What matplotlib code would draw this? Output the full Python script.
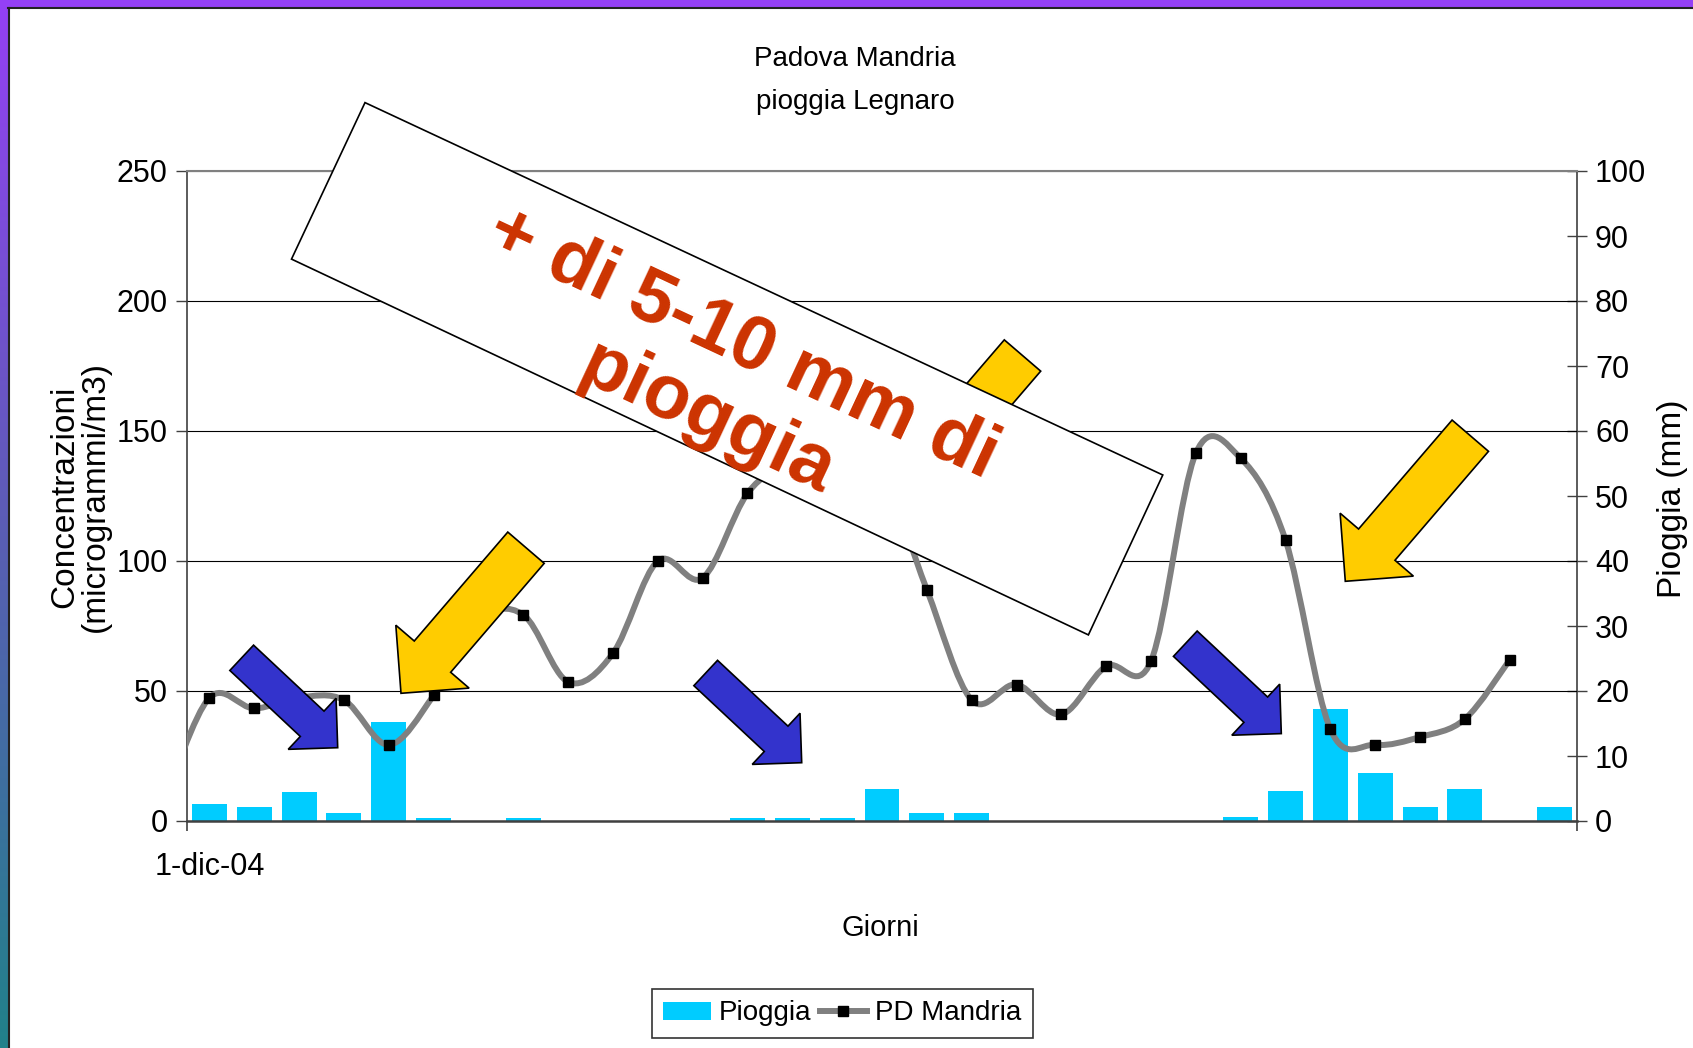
import numpy as np
import matplotlib
matplotlib.use('Agg')
import matplotlib.pyplot as plt
from matplotlib.path import Path
from matplotlib.patches import PathPatch, Polygon, Rectangle, Patch
from matplotlib.lines import Line2D
from matplotlib.colors import LinearSegmentedColormap

# Dicembre 2004: barre = pioggia Legnaro (mm), linea = PD Mandria (microgrammi/m3)
giorni = np.arange(1, 32)
pioggia = [2.6, 2.2, 4.5, 1.3, 15.2, 0.5, 0, 0.5, 0, 0, 0, 0, 0.5, 0.5, 0.5,
           4.9, 1.3, 1.3, 0, 0, 0, 0, 0, 0.6, 4.6, 17.3, 7.4, 2.2, 5.0, 0, 2.2]
# giorno 0 = 30 nov (fuori scala, solo per l'attacco della curva)
giorni_pd = np.arange(0, 31)
pd_mandria = [8, 47.4, 43.3, 47.5, 46.5, 29.3, 48.3, 77, 79.3, 53.5, 64.5,
              100, 93.5, 126, 140, 155, 135, 89, 46.5, 52.5, 41, 59.5, 61.5,
              141.5, 139.5, 108, 35.3, 29.3, 32.3, 39.2, 62]
etichetta_x = ['1-dic-04']

W, H = 1693, 1048
NARROW = ['Liberation Sans Narrow', 'Liberation Sans', 'DejaVu Sans']
REG = ['Liberation Sans', 'DejaVu Sans']
plt.rcParams['font.family'] = NARROW

CIANO = '#00CCFF'
GRIGIO = '#808080'
GIALLO = '#FFCC00'
BLU = '#3333CC'
ROSSO = '#CC3300'


def px(x, y):
    return (x / W, 1 - y / H)


def curva_liscia(x, y):
    # bezier tipo "linea smussata" di Excel
    p = np.column_stack([x, y]).astype(float)
    pp = np.vstack([p[0], p, p[-1]])
    verts = [p[0]]
    codes = [Path.MOVETO]
    for i in range(len(p) - 1):
        a, b, c, d = pp[i], pp[i + 1], pp[i + 2], pp[i + 3]
        verts += [b + (c - a) / 6, c - (d - b) / 6, c]
        codes += [Path.CURVE4] * 3
    return Path(verts, codes)


def freccia(coda, punta, sw, hw):
    coda = np.array(coda, float); punta = np.array(punta, float)
    d = punta - coda
    u = d / np.hypot(*d)
    n = np.array([-u[1], u[0]])
    base = punta - u * hw / 2
    pts = [coda + n * sw / 2, base + n * sw / 2, base + n * hw / 2, punta,
           base - n * hw / 2, base - n * sw / 2, coda - n * sw / 2]
    return [px(*q) for q in pts]


fig = plt.figure(figsize=(W / 100, H / 100), dpi=100, facecolor='white')
ax = fig.add_axes([187 / W, 1 - 821 / H, (1577 - 187) / W, (821 - 171) / H])
ax2 = ax.twinx()
ax.set_zorder(ax2.get_zorder() + 1)
ax.patch.set_visible(False)

# barre pioggia (asse destro)
ax2.bar(giorni, pioggia, width=0.78, color=CIANO, zorder=2)
ax2.set_ylim(0, 100)
ax2.set_yticks(np.arange(0, 101, 10))
ax2.tick_params(axis='y', direction='inout', length=14, width=1,
                color='#404040', labelsize=22, pad=6)

# linea PD Mandria (asse sinistro)
ax.add_patch(PathPatch(curva_liscia(giorni_pd, pd_mandria), fc='none',
                       ec=GRIGIO, lw=4.3, capstyle='round',
                       joinstyle='round', zorder=3))
ax.plot(giorni_pd, pd_mandria, ls='none', marker='s', ms=6.5,
        color='black', zorder=4)
ax.set_ylim(0, 250)
ax.set_xlim(0.5, 31.5)
ax.set_yticks(np.arange(0, 251, 50))
ax.yaxis.grid(True, color='black', lw=0.8, zorder=0)
ax.set_axisbelow(True)
ax.tick_params(axis='y', direction='out', length=8, width=1,
               color='#404040', labelsize=22, pad=6)
ax.set_xticks([1])
ax.set_xticklabels(etichetta_x)
ax.tick_params(axis='x', which='major', length=0, pad=22, labelsize=22)
ax.set_xticks([0.5, 31.5], minor=True)
ax.tick_params(axis='x', which='minor', length=7, direction='out',
               width=1.2, color='#404040')

ax.spines['right'].set_visible(False)
ax.spines['top'].set_color(GRIGIO); ax.spines['top'].set_linewidth(1.5)
ax.spines['left'].set_color('#404040'); ax.spines['left'].set_linewidth(1.2)
ax.spines['bottom'].set_color('#404040'); ax.spines['bottom'].set_linewidth(1.8)
for s in ['top', 'left', 'bottom']:
    ax2.spines[s].set_visible(False)
ax2.spines['right'].set_color('#404040'); ax2.spines['right'].set_linewidth(1.2)

# testi
fig.text(*px(855, 59), 'Padova Mandria', ha='center', va='center', fontsize=20)
fig.text(*px(855, 102), 'pioggia Legnaro', ha='center', va='center', fontsize=20)
fig.text(*px(880, 928), 'Giorni', ha='center', va='center', fontsize=21)
fig.text(*px(80, 497), 'Concentrazioni\n(microgrammi/m3)', rotation=90,
         ha='center', va='center', fontsize=24, family=REG, linespacing=1.0)
fig.text(*px(1673, 499), 'Pioggia (mm)', rotation=90, ha='center',
         va='center', fontsize=24, family=REG)

# legenda
handles = [Patch(fc=CIANO, ec='none'),
           Line2D([], [], color=GRIGIO, lw=4.3, marker='s', mfc='black',
                  mec='black', ms=6.5)]
leg = fig.legend(handles, ['Pioggia', 'PD Mandria'], loc='center',
                 bbox_to_anchor=px(842.5, 1013.5), ncol=2, fontsize=20,
                 frameon=True, fancybox=False, edgecolor='black',
                 handlelength=1.7, handletextpad=0.3, columnspacing=0.3,
                 borderpad=0.4, handleheight=0.6)
leg.get_frame().set_linewidth(1.2)

# frecce
for coda, punta, sw, hw, col in [
        ((241.7, 657.8), (337.7, 747.7), 34.7, 70, BLU),
        ((705.7, 673.0), (801.7, 762.7), 34.7, 70, BLU),
        ((1185.3, 643.7), (1281.3, 733.6), 34.7, 70, BLU),
        ((526.0, 547.7), (401.0, 693.3), 48, 96.6, GIALLO),
        ((1470.3, 435.7), (1345.3, 581.3), 48, 96.6, GIALLO),
        ((1022.5, 355.5), (897.5, 501.0), 48, 96.6, GIALLO)]:
    fig.add_artist(Polygon(freccia(coda, punta, sw, hw), closed=True,
                           transform=fig.transFigure, fc=col, ec='black',
                           lw=1.2, zorder=10))

# riquadro ruotato
box = [(365, 102.6), (1162.8, 475), (1088.4, 634.9), (291.5, 259.1)]
fig.add_artist(Polygon([px(*q) for q in box], closed=True,
                       transform=fig.transFigure, fc='white', ec='black',
                       lw=1.2, zorder=11))
fig.text(*px(725, 382), '+ di 5-10 mm di\npioggia', rotation=-25,
         rotation_mode='anchor', ha='center', va='center',
         multialignment='center', fontsize=55, fontweight='bold',
         color=ROSSO, family=REG, linespacing=1.2, zorder=12)

# cornice: barra viola in alto, striscia sfumata a sinistra
cmap = LinearSegmentedColormap.from_list('bordo', ['#9440F5', '#5B5DB5', '#21818A'])
bax = fig.add_axes([0, 0, 8 / W, 1])
bax.imshow(np.linspace(0, 1, 256).reshape(-1, 1), aspect='auto', cmap=cmap)
bax.axis('off')
fig.add_artist(Rectangle((0, 1 - 7 / H), 1, 7 / H, transform=fig.transFigure,
                         fc='#9440F5', ec='none', zorder=20))
fig.add_artist(Line2D([9 / W, 9 / W], [0, 1 - 8 / H], transform=fig.transFigure,
                      color='#222222', lw=1.5, zorder=21))
fig.add_artist(Line2D([8 / W, 1], [1 - 8 / H, 1 - 8 / H], transform=fig.transFigure,
                      color='#222222', lw=1.5, zorder=21))

fig.savefig('out.png', dpi=100, facecolor='white')
